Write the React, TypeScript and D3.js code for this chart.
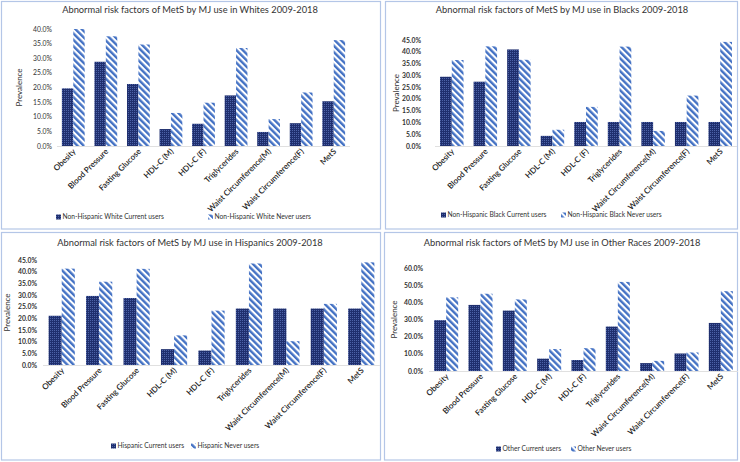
import React from "react";
import * as d3 from "d3";

const categories = [
  "Obesity",
  "Blood Pressure",
  "Fasting Glucose",
  "HDL-C (M)",
  "HDL-C (F)",
  "Triglycerides",
  "Waist Circumference(M)",
  "Waist Circumference(F)",
  "MetS",
];

const whiteCurrent = [19.7, 28.8, 21.2, 5.8, 7.6, 17.3, 4.8, 7.8, 15.3];
const whiteNever = [40.0, 37.5, 34.7, 11.3, 14.8, 33.5, 9.2, 18.3, 36.2];
const blackCurrent = [29.4, 27.3, 41.0, 4.3, 10.2, 10.2, 10.2, 10.2, 10.2];
const blackNever = [36.5, 42.3, 36.6, 6.9, 16.6, 42.2, 6.4, 21.4, 44.2];
const hispCurrent = [21.1, 29.6, 28.7, 6.8, 6.2, 24.2, 24.2, 24.2, 24.2];
const hispNever = [41.3, 35.7, 41.2, 12.7, 23.3, 43.5, 10.2, 26.2, 44.0];
const otherCurrent = [29.6, 38.5, 35.2, 7.2, 6.4, 25.9, 4.6, 10.2, 28.0];
const otherNever = [42.9, 45.0, 41.7, 12.8, 13.3, 51.9, 5.9, 10.8, 46.5];

const titles = [
  "Abnormal risk factors of MetS by MJ use in Whites 2009-2018",
  "Abnormal risk factors of MetS by MJ use in Blacks 2009-2018",
  "Abnormal risk factors of MetS by MJ use in Hispanics 2009-2018",
  "Abnormal risk factors of MetS by MJ use in Other Races 2009-2018",
];
const legendCurrent = [
  "Non-Hispanic White Current users",
  "Non-Hispanic Black Current users",
  "Hispanic Current users",
  "Other Current users",
];
const legendNever = [
  "Non-Hispanic White Never users",
  "Non-Hispanic Black Never users",
  "Hispanic Never users",
  "Other Never users",
];
const yMaxes = [40, 45, 45, 60];
const yStepList = [5, 5, 5, 10];

const FONT = "Lato, 'Open Sans', sans-serif";
const BORDER = "#b4c6e7";

type Layout = {
  box: [number, number, number, number];
  titleX: number;
  titleY: number;
  px0: number;
  px1: number;
  pyTop: number;
  pyBot: number;
  tickX: number;
  ylabX: number;
  legY: number;
  leg1X: number;
  leg2X: number;
  tickBold: boolean;
};

const layouts: Layout[] = [
  { box: [1.5, 1.5, 379, 227.5], titleX: 190, titleY: 13, px0: 57, px1: 350, pyTop: 29, pyBot: 146, tickX: 52, ylabX: 22, legY: 219, leg1X: 56, leg2X: 208, tickBold: false },
  { box: [385.5, 1.5, 352, 227.5], titleX: 562, titleY: 13, px0: 435, px1: 737, pyTop: 40, pyBot: 146, tickX: 421, ylabX: 399, legY: 217, leg1X: 441, leg2X: 561, tickBold: true },
  { box: [1.5, 232.5, 379, 227.5], titleX: 190, titleY: 246, px0: 43, px1: 380, pyTop: 260, pyBot: 365, tickX: 37, ylabX: 10, legY: 448, leg1X: 111, leg2X: 191, tickBold: true },
  { box: [384.5, 232.5, 353, 227.5], titleX: 562, titleY: 246, px0: 429, px1: 738, pyTop: 268, pyBot: 371, tickX: 423, ylabX: 397, legY: 451, leg1X: 496, leg2X: 571, tickBold: true },
];

const seriesCurrent = [whiteCurrent, blackCurrent, hispCurrent, otherCurrent];
const seriesNever = [whiteNever, blackNever, hispNever, otherNever];

function Panel({ i }: { i: number }) {
  const L = layouts[i];
  const x = d3.scaleBand<string>().domain(categories).range([L.px0, L.px1]).paddingInner(0.3).paddingOuter(0.15);
  const y = d3.scaleLinear().domain([0, yMaxes[i]]).range([L.pyBot, L.pyTop]);
  const ticks = d3.range(0, yMaxes[i] + 0.001, yStepList[i]);
  const bw = x.bandwidth() / 2;
  const fmt = (v: number) => v.toFixed(1) + "%";
  const cur = seriesCurrent[i];
  const nev = seriesNever[i];
  const clipId = `clip${i}`;
  return (
    <g>
      <defs>
        <clipPath id={clipId}>
          <rect x={L.box[0]} y={L.box[1]} width={L.box[2]} height={L.box[3]} />
        </clipPath>
      </defs>
      <rect x={L.box[0]} y={L.box[1]} width={L.box[2]} height={L.box[3]} fill="#fff" stroke={BORDER} strokeWidth={1.2} />
      <text x={L.titleX} y={L.titleY} textAnchor="middle" fontSize={9.3} fill="#333" fontFamily={FONT}>
        {titles[i]}
      </text>
      {ticks.map((t) => (
        <text key={t} x={L.tickX} y={y(t) + 2.5} textAnchor="end" fontSize={6.8} fontWeight={L.tickBold ? 700 : 400} fill="#333" fontFamily={FONT}>
          {fmt(t)}
        </text>
      ))}
      <text transform={`translate(${L.ylabX},${(L.pyTop + L.pyBot) / 2}) rotate(-90)`} textAnchor="middle" fontSize={8} fill="#333" fontFamily={FONT}>
        Prevalence
      </text>
      <line x1={L.px0} x2={L.px1} y1={L.pyBot + 0.5} y2={L.pyBot + 0.5} stroke="#e0e0e0" strokeWidth={1} />
      <g clipPath={`url(#${clipId})`}>
        {categories.map((c, k) => (
          <g key={c}>
            <rect x={x(c)!} y={y(cur[k])} width={bw} height={y(0) - y(cur[k])} fill="url(#dotPat)" />
            <rect x={x(c)! + bw} y={y(nev[k])} width={bw} height={y(0) - y(nev[k])} fill="url(#stripePat)" />
          </g>
        ))}
      </g>
      {categories.map((c) => (
        <text
          key={c}
          transform={`translate(${x(c)! + x.bandwidth() / 2 + 3},${L.pyBot + 6}) rotate(-45)`}
          textAnchor="end"
          fontSize={8}
          fontWeight={600}
          fill="#222"
          fontFamily={FONT}
        >
          {c}
        </text>
      ))}
      <rect x={L.leg1X} y={L.legY - 4.5} width={5} height={5} fill="url(#dotPat)" />
      <text x={L.leg1X + 6.5} y={L.legY} fontSize={6.7} fill="#333" fontFamily={FONT}>
        {legendCurrent[i]}
      </text>
      <rect x={L.leg2X} y={L.legY - 4.5} width={5} height={5} fill="url(#stripePat)" />
      <text x={L.leg2X + 6.5} y={L.legY} fontSize={6.7} fill="#333" fontFamily={FONT}>
        {legendNever[i]}
      </text>
    </g>
  );
}

export default function App() {
  return (
    <svg width={740} height={462} style={{ position: "absolute", left: 0, top: 0 }}>
      <defs>
        <pattern id="dotPat" width={2} height={2} patternUnits="userSpaceOnUse">
          <rect width={2} height={2} fill="#1f2f6e" />
          <rect width={1} height={1} fill="#4d63a8" />
        </pattern>
        <pattern id="stripePat" width={4.5} height={4.5} patternUnits="userSpaceOnUse" patternTransform="rotate(-45)">
          <rect width={4.5} height={4.5} fill="#ffffff" />
          <rect width={2.4} height={4.5} fill="#4472c4" />
        </pattern>
      </defs>
      <rect width={740} height={462} fill="#fff" />
      {[0, 1, 2, 3].map((i) => (
        <Panel key={i} i={i} />
      ))}
    </svg>
  );
}
